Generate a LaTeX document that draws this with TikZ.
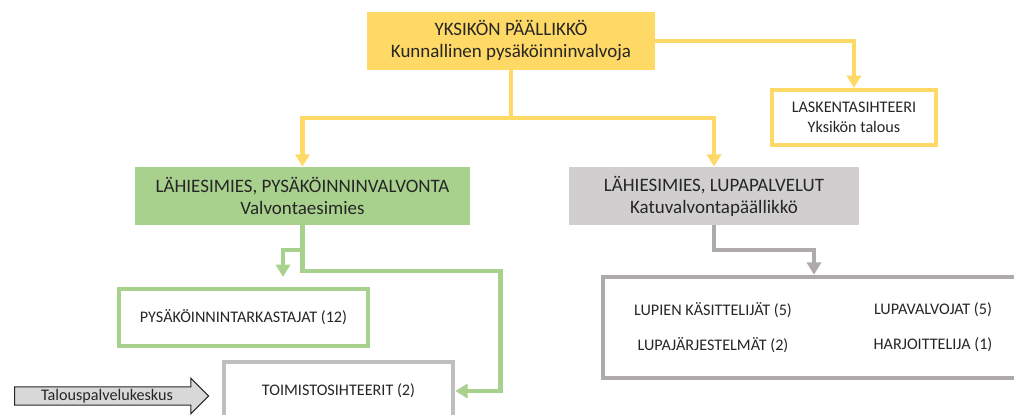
\documentclass[tikz,border=0pt]{standalone}
\usepackage{fontspec}
\setmainfont{Carlito}
\usepackage{tikz}
\usetikzlibrary{arrows.meta, positioning, shapes.arrows}
\definecolor{orgyellow}{RGB}{255,217,102}
\definecolor{orggreen}{RGB}{169,209,142}
\definecolor{orggray}{RGB}{208,206,206}
\definecolor{orgline}{RGB}{174,170,170}
\definecolor{orgbox}{RGB}{191,191,191}
\definecolor{orgtext}{RGB}{38,38,38}

\begin{document}
\begin{tikzpicture}[x=0.02cm, y=-0.02cm,
    every node/.style={text=orgtext, align=center},
    bigfont/.style={font=\fontsize{10.8}{12.5}\selectfont},
    smallfont/.style={font=\fontsize{9.2}{11.5}\selectfont},
    conn/.style={line width=2.3pt, -{Triangle[width=8pt, length=7pt]}}]
  \useasboundingbox (0,0) rectangle (1014,415);
  \clip (0,0) rectangle (1014,415);

  % Head of unit
  \node[bigfont, fill=orgyellow, minimum width=5.76cm, minimum height=1.16cm]
    (chief) at (511,41) {YKSIKÖN PÄÄLLIKKÖ\\Kunnallinen pysäköinninvalvoja};

  % Accounting secretary
  \node[smallfont, draw=orgyellow, line width=2.4pt, fill=white,
        minimum width=3.28cm, minimum height=1.1cm]
    (lask) at (854,117.5) {LASKENTASIHTEERI\\Yksikön talous};
  \draw[conn, orgyellow] (chief.east) -| (lask.north);

  % Two supervisors
  \node[bigfont, fill=orggreen, minimum width=6.7cm, minimum height=1.16cm]
    (lvalv) at (302.5,196) {LÄHIESIMIES, PYSÄKÖINNINVALVONTA\\Valvontaesimies};
  \node[bigfont, fill=orggray, minimum width=5.8cm, minimum height=1.16cm]
    (llupa) at (714,196) {LÄHIESIMIES, LUPAPALVELUT\\Katuvalvontapäällikkö};
  \draw[conn, orgyellow] (chief.south) -- ++(0,48) -| (lvalv.north);
  \draw[conn, orgyellow] (chief.south) -- ++(0,48) -| (llupa.north);

  % Parking control staff
  \node[smallfont, draw=orggreen, line width=2.4pt, fill=white,
        minimum width=4.98cm, minimum height=1.14cm]
    (tark) at (243.5,317.5) {PYSÄKÖINNINTARKASTAJAT (12)};
  \node[smallfont, draw=orgbox, line width=2.6pt, fill=white,
        minimum width=4.58cm, minimum height=1.16cm]
    (toim) at (338.5,391) {TOIMISTOSIHTEERIT (2)};
  \draw[conn, orggreen, shorten >=0.2cm] (lvalv.south) -- ++(0,25)
    -| ([xshift=0.79cm]tark.north);
  \draw[conn, orggreen] (lvalv.south) -- ++(0,46) -- ++(198,0) |- (toim.east);

  % Outside service
  \node[smallfont, shape=single arrow, draw=orgtext, fill=orggray!80,
        line width=0.6pt, single arrow head extend=0.17cm,
        minimum width=0.7cm, minimum height=3.88cm, inner sep=1pt]
    (talous) at (107,396) {Talouspalvelukeskus};

  % Permit services staff
  \node[draw=orgline, line width=2.6pt, fill=white,
        minimum width=8.44cm, minimum height=2.02cm]
    (lupa) at (814,327.5) {};
  \draw[conn, orgline] (llupa.south) -- ++(0,25) -| (lupa.north);
  \node[smallfont] (kasit) at (713,310) {LUPIEN KÄSITTELIJÄT (5)};
  \node[smallfont] (valvo) at (933,310) {LUPAVALVOJAT (5)};
  \node[smallfont] (jarj) at (713,345) {LUPAJÄRJESTELMÄT (2)};
  \node[smallfont] (harj) at (933,345) {HARJOITTELIJA (1)};
\end{tikzpicture}
\end{document}
